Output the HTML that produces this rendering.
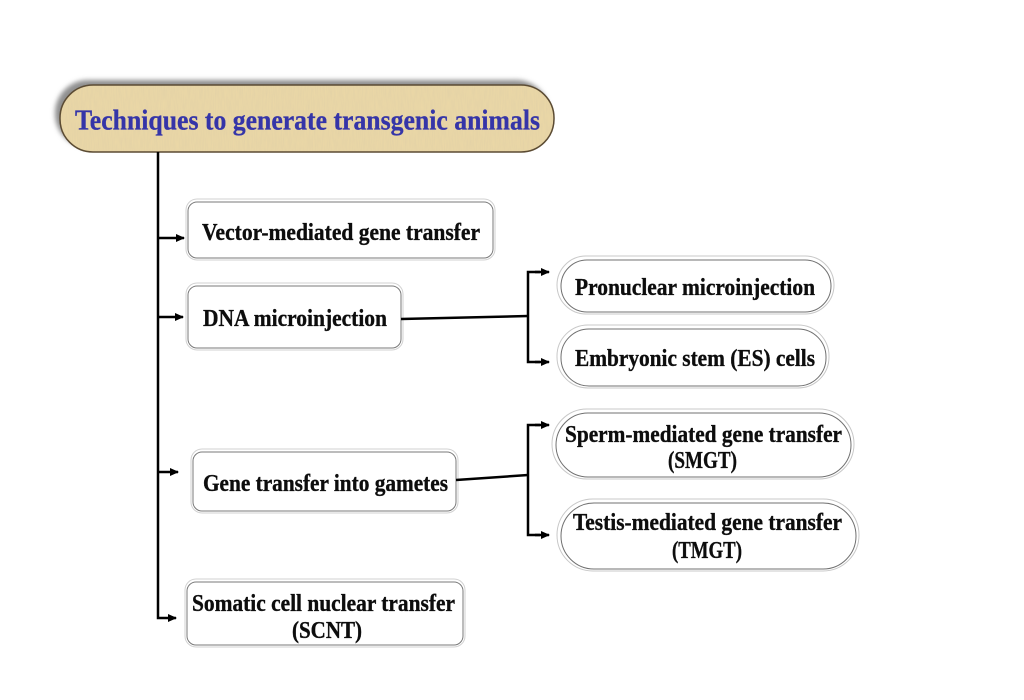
<!DOCTYPE html>
<html>
<head>
<meta charset="utf-8">
<style>
  html, body { margin: 0; padding: 0; background: #ffffff; }
  body { width: 1024px; height: 700px; overflow: hidden; }
  svg { display: block; }
  text { font-family: "Liberation Serif", "Times New Roman", serif; font-weight: bold; }
  .lbl { fill: #0d0d0d; stroke: #0d0d0d; stroke-width: 0.35; }
</style>
</head>
<body>
<svg width="1024" height="700" viewBox="0 0 1024 700" xmlns="http://www.w3.org/2000/svg">
  <defs>
    <filter id="paper" x="0" y="0" width="100%" height="100%">
      <feTurbulence type="fractalNoise" baseFrequency="0.9 0.08" numOctaves="2" seed="3" result="n"/>
      <feColorMatrix in="n" type="matrix"
        values="0 0 0 0 0.74
                0 0 0 0 0.62
                0 0 0 0 0.38
                0 0 0 0.9 -0.2" result="c"/>
      <feComposite in="c" in2="SourceGraphic" operator="in"/>
    </filter>
    <filter id="tshadow" x="-10%" y="-30%" width="120%" height="160%">
      <feGaussianBlur stdDeviation="2.5"/>
    </filter>
    <marker id="ah" viewBox="0 0 9 9" refX="8" refY="4.5" markerWidth="9" markerHeight="9" markerUnits="userSpaceOnUse" orient="auto">
      <path d="M0,0.5 L9,4.5 L0,8.5 Z" fill="#000"/>
    </marker>
  </defs>

  <!-- Title box -->
  <rect x="55" y="80" width="494" height="67" rx="33" ry="33" fill="#8f8f8f" filter="url(#tshadow)"/>
  <rect x="60" y="85" width="494" height="67" rx="33" ry="33" fill="#ead7a6"/>
  <rect x="60" y="85" width="494" height="67" rx="33" ry="33" fill="#ead7a6" filter="url(#paper)"/>
  <rect x="60" y="85" width="494" height="67" rx="33" ry="33" fill="none" stroke="#5b4b33" stroke-width="1.5"/>
  <text x="75" y="129.5" font-size="29" fill="#3535a8" stroke="#3535a8" stroke-width="0.3" textLength="465" lengthAdjust="spacingAndGlyphs">Techniques to generate transgenic animals</text>

  <!-- Main trunk -->
  <path d="M158,152 L158,618 L176,618" fill="none" stroke="#000" stroke-width="2.5" marker-end="url(#ah)"/>
  <line x1="158" y1="238" x2="184" y2="238" stroke="#000" stroke-width="2.5" marker-end="url(#ah)"/>
  <line x1="158" y1="317" x2="183" y2="317" stroke="#000" stroke-width="2.5" marker-end="url(#ah)"/>
  <line x1="158" y1="472" x2="178" y2="472" stroke="#000" stroke-width="2.5" marker-end="url(#ah)"/>

  <!-- Left boxes -->
  <g fill="#fff">
    <rect x="186" y="199" width="309" height="61" rx="11" stroke="#d2d2d2" stroke-width="1"/>
    <rect x="188" y="202" width="305" height="56" rx="9" stroke="#7a7a7a" stroke-width="1"/>

    <rect x="186" y="283" width="217" height="67" rx="11" stroke="#d2d2d2" stroke-width="1"/>
    <rect x="188" y="286" width="213" height="62" rx="9" stroke="#7a7a7a" stroke-width="1"/>

    <rect x="191" y="449" width="267" height="64" rx="11" stroke="#d2d2d2" stroke-width="1"/>
    <rect x="193" y="452" width="263" height="59" rx="9" stroke="#7a7a7a" stroke-width="1"/>

    <rect x="185" y="579" width="280" height="68" rx="11" stroke="#d2d2d2" stroke-width="1"/>
    <rect x="187" y="582" width="276" height="63" rx="9" stroke="#7a7a7a" stroke-width="1"/>
  </g>
  <text class="lbl" x="202" y="240" font-size="24" textLength="278" lengthAdjust="spacingAndGlyphs">Vector-mediated gene transfer</text>
  <text class="lbl" x="203" y="326" font-size="24" textLength="184" lengthAdjust="spacingAndGlyphs">DNA microinjection</text>
  <text class="lbl" x="203" y="491" font-size="24" textLength="245" lengthAdjust="spacingAndGlyphs">Gene transfer into gametes</text>
  <text class="lbl" x="192" y="611" font-size="24" textLength="263" lengthAdjust="spacingAndGlyphs">Somatic cell nuclear transfer</text>
  <text class="lbl" x="292" y="638" font-size="24" textLength="70" lengthAdjust="spacingAndGlyphs">(SCNT)</text>

  <!-- Branch connectors -->
  <line x1="401" y1="319" x2="528" y2="316" stroke="#000" stroke-width="2.5"/>
  <path d="M540,272 L528,272 L528,362 L540,362" fill="none" stroke="#000" stroke-width="2.5"/>
  <line x1="535" y1="272" x2="549" y2="272" stroke="#000" stroke-width="2.5" marker-end="url(#ah)"/>
  <line x1="535" y1="362" x2="549" y2="362" stroke="#000" stroke-width="2.5" marker-end="url(#ah)"/>

  <line x1="456" y1="480" x2="528" y2="475" stroke="#000" stroke-width="2.5"/>
  <path d="M540,425 L528,425 L528,535 L540,535" fill="none" stroke="#000" stroke-width="2.5"/>
  <line x1="535" y1="425" x2="549" y2="425" stroke="#000" stroke-width="2.5" marker-end="url(#ah)"/>
  <line x1="535" y1="535" x2="549" y2="535" stroke="#000" stroke-width="2.5" marker-end="url(#ah)"/>

  <!-- Right pills -->
  <g fill="#fff">
    <rect x="557" y="256" width="277" height="58" rx="29" stroke="#c8c8c8" stroke-width="1"/>
    <rect x="561" y="260" width="270" height="52" rx="26" stroke="#707070" stroke-width="1"/>

    <rect x="557" y="325" width="272" height="63" rx="31" stroke="#c8c8c8" stroke-width="1"/>
    <rect x="561" y="329" width="265" height="57" rx="28" stroke="#707070" stroke-width="1"/>

    <rect x="552" y="409" width="302" height="70" rx="35" stroke="#c8c8c8" stroke-width="1"/>
    <rect x="556" y="413" width="295" height="64" rx="32" stroke="#707070" stroke-width="1"/>

    <rect x="557" y="499" width="302" height="72" rx="36" stroke="#c8c8c8" stroke-width="1"/>
    <rect x="561" y="503" width="295" height="66" rx="33" stroke="#707070" stroke-width="1"/>
  </g>
  <text class="lbl" x="575" y="295" font-size="24" textLength="240" lengthAdjust="spacingAndGlyphs">Pronuclear microinjection</text>
  <text class="lbl" x="575" y="366" font-size="24" textLength="240" lengthAdjust="spacingAndGlyphs">Embryonic stem (ES) cells</text>
  <text class="lbl" x="565" y="442" font-size="24" textLength="277" lengthAdjust="spacingAndGlyphs">Sperm-mediated gene transfer</text>
  <text class="lbl" x="668" y="468" font-size="24" textLength="69" lengthAdjust="spacingAndGlyphs">(SMGT)</text>
  <text class="lbl" x="573" y="530" font-size="24" textLength="269" lengthAdjust="spacingAndGlyphs">Testis-mediated gene transfer</text>
  <text class="lbl" x="672" y="558" font-size="24" textLength="70" lengthAdjust="spacingAndGlyphs">(TMGT)</text>
</svg>
</body>
</html>
